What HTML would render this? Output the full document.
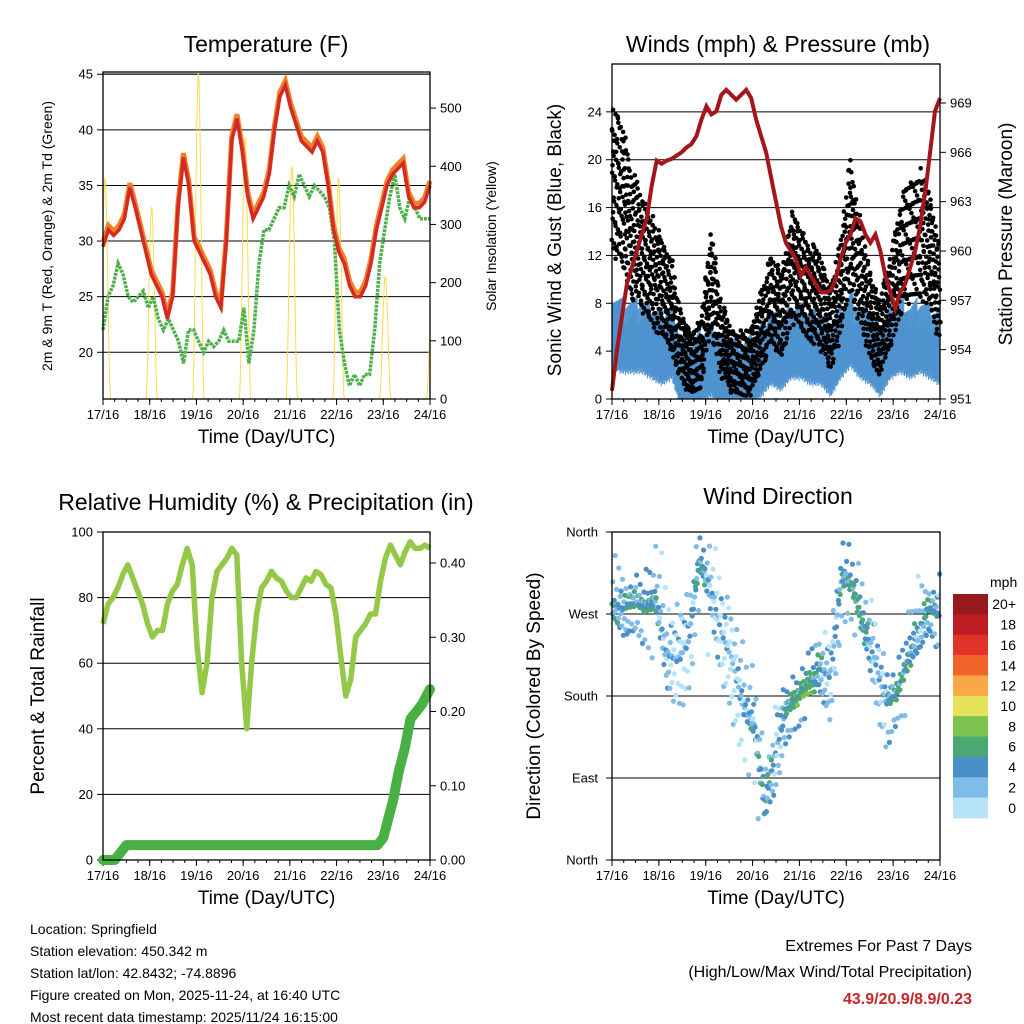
<!DOCTYPE html>
<html><head><meta charset="utf-8">
<style>
body{margin:0;background:#fff;}
svg{display:block;font-family:"Liberation Sans",sans-serif;}
</style></head>
<body>
<svg id="c" width="1024" height="1024" viewBox="0 0 1024 1024"></svg>
<script>
// ---------- data ----------
const dayLabels=["17/16","18/16","19/16","20/16","21/16","22/16","23/16","24/16"];
const tempT=[29.5,31,30.5,31,32,34.8,33,31,29,27,26,25,23,25,33,37.5,35,30,29,28,27,25,24,30,39,41,38,34,32,33,34,36,40,43,44,42,40.5,39,38.5,38,39,38,35,31,29,28,26,25,25,26,28,31,33,35,36,36.5,37,34,33,33,33.5,35];
const tempTd=[22,25,26,28,27,25,24.5,25,25.5,24,25,23,22,23,22,21,19,22,22,21,20,21,20.5,21,22,21,21,21,24,19,22,28,31,31,32,33,33,35,34,36,35,34,35,34.5,34,33,30,22,19,17,18,17,18,18,22,28,31,34,36,33,32,34,33,32,32,32];
const solarPeak=[380,330,560,450,400,380,210,150];
const pressure=[951.5,954,956,958,959,960,961,962,964,965.5,965.3,965.5,965.6,965.8,966,966.3,966.5,967,968,968.8,968.3,968.5,969.5,969.8,969.5,969.2,969.5,969.8,969.3,968,967,966,964.5,963,961.5,960.5,960,959.5,958.5,959,958.5,958,957.5,957.5,957.6,958.3,959.5,960.5,961,962,961.8,961,960.5,961,960,958.5,957.5,956.5,957.5,958,959,960,961.5,963.5,966,968.5,969.3];
const windSus=[5.5,5,5,5,4.5,4,4.5,2,1.5,2.5,3,2,2,1.5,2,3,4,3.5,4.5,4.5,4,4,3,4.5,5.5,4.5,4,3,4.5,5,4.5,5,4.5,4];
const windGust=[18,17,14,12,11,9,8,4,3,4,10,5,3,3,3,6,8,7,11,10,9,8,6,9,15,10,7,5,8,12,13,14,12,9];
const humidity=[72,78,80,83,87,90,86,82,78,72,68,70,70,78,82,84,90,95,90,65,51,60,80,88,90,92,95,93,60,40,60,75,83,85,88,86,85,82,80,80,83,86,85,88,87,84,83,75,62,50,55,68,70,72,75,75,85,92,96,93,90,94,97,95,95,96,95];
const precipHours=[0,6,9,12,141,144,146,149,152,155,158,161,164,166,168];
const precip=[0,0,0.01,0.02,0.02,0.03,0.05,0.08,0.12,0.15,0.19,0.20,0.21,0.22,0.23];
const windDir=[280,275,282,278,290,225,220,240,330,300,250,220,170,150,60,120,165,180,195,210,200,310,300,260,220,175,180,220,250,275,270];
const dirSpeed=[5,4,5,5,4,3,2,3,5,3,2,2,3,4,5,3,5,6,7,4,3,4,6,5,3,3,6,5,4,5,4];
const barLabels=["20+","18","16","14","12","10","8","6","4","2","0"];
const barColors=["#961a1d","#bd1e24","#e0332a","#f26329","#f9a845","#e6e35a","#7bc24f","#4aa870","#4b8fc8","#7fbce8","#b6e3f8"];

// ---------- helpers ----------
const svg=document.getElementById('c');
const NS='http://www.w3.org/2000/svg';
function mk(tag,attrs,parent,txt){const e=document.createElementNS(NS,tag);for(const k in attrs)e.setAttribute(k,attrs[k]);if(txt!==undefined)e.textContent=txt;(parent||svg).appendChild(e);return e;}
function lin(d0,d1,r0,r1){return v=>r0+(v-d0)/(d1-d0)*(r1-r0);}
function fr(x){return x-Math.floor(x);}
function frame(g,x0,y0,x1,y1){mk('rect',{x:x0,y:y0,width:x1-x0,height:y1-y0,fill:'none',stroke:'#000','stroke-width':1.3},g);}
function timeAxis(g,x0,x1,yb){
  const xs=lin(0,168,x0,x1);
  dayLabels.forEach((l,i)=>{const x=xs(i*24);
    const t=mk('line',{x1:x,x2:x,y1:yb,y2:yb+6,stroke:'#000'},g);
    
    const tx=mk('text',{x:x,y:yb+20,'font-size':13,'text-anchor':'middle'},g,l);
    
  });
  for(let h=0;h<=168;h+=6){const x=xs(h);mk('line',{x1:x,x2:x,y1:yb,y2:yb+3,stroke:'#000'},g);}
  const tt=mk('text',{x:(x0+x1)/2,y:yb+44,'font-size':19,'text-anchor':'middle'},g,'Time (Day/UTC)');
  
  return xs;
}
function yAxis(g,x,vals,ys,side,fmt,grid,gx0,gx1){
  vals.forEach(v=>{const y=ys(v);
    if(grid){const gl=mk('line',{x1:gx0,x2:gx1,y1:y,y2:y,stroke:'#000','stroke-width':1},g);}
    mk('line',{x1:x,x2:x+(side<0?-6:6),y1:y,y2:y,stroke:'#000'},g);
    const t=mk('text',{x:x+(side<0?-10:10),y:y+4.5,'font-size':13,'text-anchor':side<0?'end':'start'},g,fmt(v));
    
  });
}
function title(g,x,y,s,name){const t=mk('text',{x:x,y:y,'font-size':23,'text-anchor':'middle'},g,s);}
function vtitle(g,x,y,s,size,name){const t=mk('text',{x:x,y:y,'font-size':size,'text-anchor':'middle',transform:`rotate(-90 ${x} ${y})`},g,s);}
function series(arr){return arr.map((v,i)=>[i*168/(arr.length-1),v]);}
function path(pts,xs,ys){return pts.map((p,i)=>(i?'L':'M')+xs(p[0]).toFixed(1)+' '+ys(p[1]).toFixed(1)).join(' ');}

// ---------- Panel 1: temperature ----------
{const g=mk('g',{});
 const X0=103,X1=430,Y0=72,Y1=399;
 title(g,266,52,'Temperature (F)','temperature-title');
 const ys=lin(15.8,45.2,Y1,Y0), ysol=lin(0,562,Y1,Y0);
 const xs=timeAxis(g,X0,X1,Y1);
 yAxis(g,X0,[20,25,30,35,40,45],ys,-1,v=>v,true,X0,X1);
 yAxis(g,X1,[0,100,200,300,400,500],ysol,1,v=>v,false);
 mk('line',{x1:X0,x2:X1,y1:Y0+2,y2:Y0+2,stroke:'#000'},g);
 let sp=[];solarPeak.forEach((pk,d)=>{const c=d*24+1;for(let h=-3;h<=3;h+=0.25){const t=c+h;if(t<0||t>168)continue;sp.push([t,Math.max(0,pk*Math.pow(Math.cos(h/3*Math.PI/2),2))]);}});
 const sl=mk('path',{d:path(sp,xs,ysol),fill:'none',stroke:'#f7dc4a','stroke-width':1},g);
 const tdp=series(tempTd);
 const td=mk('path',{d:path(tdp,xs,ys),fill:'none',stroke:'#4db04a','stroke-width':3.5,'stroke-dasharray':'3 1'},g);
 const tp=series(tempT);
 const o=mk('path',{d:path(tp.map(p=>[p[0],p[1]+0.4]),xs,ys),fill:'none',stroke:'#f07f2a','stroke-width':5},g);
 const r=mk('path',{d:path(tp,xs,ys),fill:'none',stroke:'#d42a22','stroke-width':3.5},g);
 frame(g,X0,Y0,X1,Y1);
 vtitle(g,52,236,'2m & 9m T (Red, Orange) & 2m Td (Green)',14,'left-y-axis-title');
 vtitle(g,496,236,'Solar Insolation (Yellow)',14,'right-y-axis-title');
}

// ---------- Panel 2: winds & pressure ----------
{const g=mk('g',{});
 const X0=612,X1=940,Y0=64,Y1=399;
 title(g,778,52,'Winds (mph) & Pressure (mb)','winds-title');
 const ys=lin(0,28,Y1,Y0), yp=lin(951,969,Y1,103);
 const xs=timeAxis(g,X0,X1,Y1);
 yAxis(g,X0,[0,4,8,12,16,20,24],ys,-1,v=>v,true,X0,X1);
 yAxis(g,X1,[951,954,957,960,963,966,969],yp,1,v=>v,false);
 const gb=mk('g',{},g);
 const gk=mk('g',{},g);
 const n=windSus.length;let c=0;
 for(let i=0;i<n-1;i++){for(let k=0;k<40;k++){c++;const f=k/40;const h=(i+f)*168/(n-1);
   const s=windSus[i]*(1-f)+windSus[i+1]*f;const gu=windGust[i]*(1-f)+windGust[i+1]*f;
   const a=fr(c*0.6180339)*2-1, b=fr(c*0.7548776)*2-1, d=fr(c*0.5698403)*2-1;
   const lo=Math.max(0,s-1.5-Math.abs(a)*1.5), hi=s+1.2+Math.max(0,b)*2.5;
   mk('line',{x1:xs(h).toFixed(1),x2:xs(h).toFixed(1),y1:ys(lo).toFixed(1),y2:ys(hi).toFixed(1),stroke:'#4f93cf','stroke-width':1.1},gb);
   mk('circle',{cx:(xs(h)+a).toFixed(1),cy:ys(Math.max(0,gu+d*(2+gu*0.25))).toFixed(1),r:2.3,fill:'#000'},gk);
   if(k%2==0)mk('circle',{cx:(xs(h)+b).toFixed(1),cy:ys(Math.max(0.3,gu+a*(2+gu*0.25))).toFixed(1),r:2.3,fill:'#000'},gk);
 }}
 const pl=mk('path',{d:path(series(pressure),xs,yp),fill:'none',stroke:'#a3161a','stroke-width':4},g);
 frame(g,X0,Y0,X1,Y1);
 vtitle(g,561,240,'Sonic Wind & Gust (Blue, Black)',19,'left-y-axis-title');
 vtitle(g,1012,234,'Station Pressure (Maroon)',19,'right-y-axis-title');
}

// ---------- Panel 3: RH & precip ----------
{const g=mk('g',{});
 const X0=103,X1=430,Y0=532,Y1=860;
 title(g,266,510,'Relative Humidity (%) & Precipitation (in)','humidity-title');
 const ys=lin(0,100,Y1,Y0), yr=lin(0,0.4,Y1,563);
 const xs=timeAxis(g,X0,X1,Y1);
 yAxis(g,X0,[0,20,40,60,80,100],ys,-1,v=>v,true,X0,X1);
 yAxis(g,X1,[0,0.1,0.2,0.3,0.4],yr,1,v=>v.toFixed(2),false);
 const hl=mk('path',{d:path(series(humidity),xs,ys),fill:'none',stroke:'#93c849','stroke-width':5.5,'stroke-linejoin':'round'},g);
 const pts=precipHours.map((h,i)=>[h,precip[i]]);
 const pr=mk('path',{d:path(pts,xs,yr),fill:'none',stroke:'#49b044','stroke-width':10,'stroke-linejoin':'round','stroke-linecap':'round'},g);
 frame(g,X0,Y0,X1,Y1);
 vtitle(g,44,696,'Percent & Total Rainfall',19,'left-y-axis-title');
}

// ---------- Panel 4: wind direction ----------
{const g=mk('g',{});
 const X0=612,X1=940,Y0=532,Y1=860;
 title(g,778,504,'Wind Direction','wind-direction-title');
 const ys=lin(0,360,Y1,Y0);
 const xs=timeAxis(g,X0,X1,Y1);
 const dl=["North","East","South","West","North"];
 [0,90,180,270,360].forEach((v,i)=>{const y=ys(v);mk('line',{x1:X0,x2:X1,y1:y,y2:y,stroke:'#000'},g);
   mk('line',{x1:X0,x2:X0-6,y1:y,y2:y,stroke:'#000'},g);
   const t=mk('text',{x:X0-14,y:y+4.5,'font-size':13,'text-anchor':'end'},g,dl[i]);});
 const gp=mk('g',{},g);
 const n=windDir.length;
 function col(s){const idx=Math.max(0,Math.min(10,10-Math.floor(s/2)));return barColors[idx];}
 let c=0;
 for(let i=0;i<n-1;i++){for(let k=0;k<24;k++){c++;const f=k/24;const h=(i+f)*168/(n-1);
   const d=windDir[i]*(1-f)+windDir[i+1]*f;const s=dirSpeed[i]*(1-f)+dirSpeed[i+1]*f;
   const w=fr(c*0.6180339)*2-1, w2=fr(c*0.7548776)*2-1;
   const sp=Math.max(0,s+w2*2.5);
   const dd=d+w*Math.abs(w)*(20+(6-Math.min(6,sp))*14);
   if(dd<0||dd>360)continue;
   mk('circle',{cx:xs(h).toFixed(1),cy:ys(dd).toFixed(1),r:2.6,fill:col(sp)},gp);
 }}
 frame(g,X0,Y0,X1,Y1);
 vtitle(g,540,696,'Direction (Colored By Speed)',19,'y-axis-title');
 const cb=mk('g',{},g);
 mk('text',{x:990,y:587,'font-size':14,'text-anchor':'start'},cb,'mph');
 const bh=(818-594)/barColors.length;
 barColors.forEach((c,i)=>{const r=mk('rect',{x:953,y:594+i*bh,width:35,height:bh+0.3,fill:c},cb);
   const t=mk('text',{x:1016,y:594+i*bh+bh/2+5,'font-size':14,'text-anchor':'end'},cb,barLabels[i]);});
}

// ---------- footer ----------
{const g=mk('g',{'font-size':14});
 ["Location: Springfield","Station elevation: 450.342 m","Station lat/lon: 42.8432; -74.8896","Figure created on Mon, 2025-11-24, at 16:40 UTC","Most recent data timestamp: 2025/11/24 16:15:00"].forEach((s,i)=>mk('text',{x:30,y:934+i*22},g,s));
 const e=mk('g',{'text-anchor':'end','font-size':16});
 mk('text',{x:972,y:951},e,'Extremes For Past 7 Days');
 mk('text',{x:972,y:977},e,'(High/Low/Max Wind/Total Precipitation)');
 mk('text',{x:972,y:1004,fill:'#c8242a','font-weight':'bold'},e,'43.9/20.9/8.9/0.23');
}
</script>
</body></html>
